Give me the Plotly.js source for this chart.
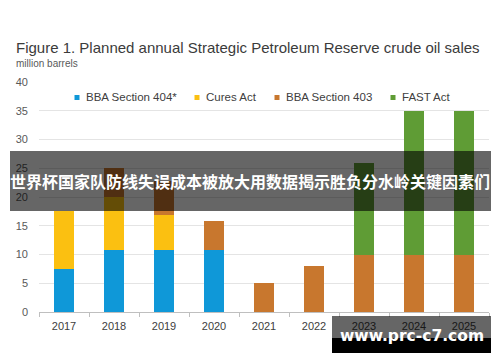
<!DOCTYPE html>
<html>
<head>
<meta charset="utf-8">
<script src="https://cdn.plot.ly/plotly-3.0.1.min.js"></script>
<style>html,body{margin:0;padding:0;background:#fff;}#chart{width:500px;height:362px;}</style>
</head>
<body>
<div id="chart"></div>
<script>
// ---- data ----
const years = ["2017","2018","2019","2020","2021","2022","2023","2024","2025"];
const seriesNames = ["BBA Section 404*","Cures Act","BBA Section 403","FAST Act"];
const bba404 = [7.5, 10.8, 10.8, 10.8, 0, 0, 0, 0, 0];
const curesAct = [10, 9.2, 6, 0, 0, 0, 0, 0, 0];
const bba403 = [0, 5, 6, 5, 5, 8, 10, 10, 10];
const fastAct = [0, 0, 0, 0, 0, 0, 16, 25, 25];
const colors = ["#0f98d8","#fbc011","#c8772e","#5f9c35"];
const yTicks = [0,5,10,15,20,25,30,35,40];

const titleText = "Figure 1. Planned annual Strategic Petroleum Reserve crude oil sales";
const subtitleText = "million barrels";
const bannerText = "世界杯国家队防线失误成本被放大用数据揭示胜负分水岭关键因素们";
const watermarkText = "www.prc-c7.com";

// ---- geometry helpers (pixel -> paper) ----
const W = 500, H = 362, L = 39, R = 489, T = 82, B = 312;
const px = v => (v - L) / (R - L);
const py = v => (B - v) / (B - T);

const values = [bba404, curesAct, bba403, fastAct];
const traces = values.map((vals, i) => ({
  type: "bar",
  name: seriesNames[i],
  x: years,
  y: vals,
  marker: {color: colors[i], line: {width: 0}},
  showlegend: false,
  hoverinfo: "skip"
}));

const legendMarkX = [77, 197, 277, 393];
const legendTextX = [84, 204, 284, 400];
const annotations = [
  {text: titleText, x: px(14), y: py(47), xref: "paper", yref: "paper", xanchor: "left", yanchor: "middle",
   showarrow: false, font: {family: "Liberation Sans, Arial, sans-serif", size: 15, color: "#3b3b3b"}},
  {text: subtitleText, x: px(14), y: py(63), xref: "paper", yref: "paper", xanchor: "left", yanchor: "middle",
   showarrow: false, font: {family: "Liberation Sans, Arial, sans-serif", size: 10, color: "#595959"}}
];
const shapes = [];
seriesNames.forEach((n, i) => {
  shapes.push({type: "rect", xref: "paper", yref: "paper",
    x0: px(legendMarkX[i] - 2.5), x1: px(legendMarkX[i] + 2.5), y0: py(95), y1: py(100),
    fillcolor: colors[i], line: {width: 0}});
  annotations.push({
    text: n, x: px(legendTextX[i]), y: py(97), xref: "paper", yref: "paper", xanchor: "left", yanchor: "middle",
    showarrow: false, font: {family: "Liberation Sans, Arial, sans-serif", size: 11.5, color: "#404040"}
  });
});
annotations.push({
  text: "<b>" + bannerText + "</b>", x: px(250), y: py(181), xref: "paper", yref: "paper",
  xanchor: "center", yanchor: "middle", showarrow: false,
  font: {family: "Noto Sans CJK SC, sans-serif", size: 16, color: "#ffffff"}
});
annotations.push({
  text: "<b>" + watermarkText + "</b>", x: px(411.5), y: py(336), xref: "paper", yref: "paper",
  xanchor: "center", yanchor: "middle", showarrow: false,
  font: {family: "DejaVu Sans, sans-serif", size: 15.5, color: "#ffffff"}
});

shapes.push(
  {type: "rect", xref: "paper", yref: "paper", x0: px(10), x1: px(491), y0: py(151), y1: py(211),
   fillcolor: "rgba(0,0,0,0.6)", line: {width: 0}, layer: "above"},
  {type: "rect", xref: "paper", yref: "paper", x0: px(332), x1: px(491), y0: py(316), y1: py(338),
   fillcolor: "rgba(0,0,0,0.6)", line: {width: 0}, layer: "above"},
  {type: "rect", xref: "paper", yref: "paper", x0: px(332), x1: px(491), y0: py(338), y1: py(353),
   fillcolor: "#000000", line: {width: 0}, layer: "above"}
);

const layout = {
  width: W, height: H,
  margin: {l: L, r: W - R, t: T, b: H - B, pad: 0},
  paper_bgcolor: "#ffffff", plot_bgcolor: "#ffffff",
  barmode: "stack", bargap: 0.6,
  showlegend: false,
  font: {family: "Liberation Sans, Arial, sans-serif", color: "#404040"},
  xaxis: {
    type: "category", categoryarray: years, tickson: "boundaries",
    ticks: "outside", ticklen: 4, tickcolor: "#bfbfbf", tickwidth: 1,
    showline: true, linecolor: "#bfbfbf", linewidth: 1,
    showgrid: false, zeroline: false, ticklabelstandoff: 4,
    tickfont: {size: 11, color: "#404040"}, fixedrange: true
  },
  yaxis: {
    range: [0, 40], tickvals: yTicks, ticktext: yTicks.map(String),
    showgrid: true, gridcolor: "#e4e4e4", gridwidth: 1,
    zeroline: false, showline: false, ticks: "",
    ticklabelstandoff: 10,
    tickfont: {size: 11, color: "#595959"}, fixedrange: true
  },
  annotations: annotations,
  shapes: shapes
};

Plotly.newPlot("chart", traces, layout, {staticPlot: true, displayModeBar: false});
</script>
</body>
</html>
